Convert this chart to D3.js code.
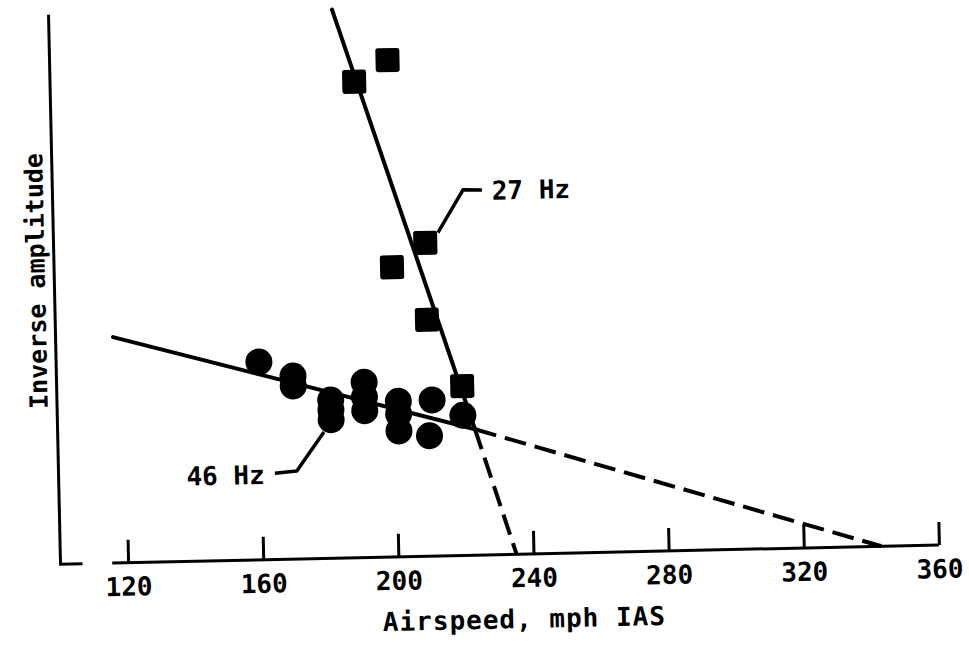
<!DOCTYPE html>
<html>
<head>
<meta charset="utf-8">
<script src="https://cdn.jsdelivr.net/npm/d3@7"></script>
<style>
  body { margin: 0; background: #fff; }
  text { font-family: "DejaVu Sans Mono", "Liberation Mono", monospace; fill: #000; }
</style>
</head>
<body>
<script>
// Airspeed ticks (mph IAS)
const xTicks = [120, 160, 200, 240, 280, 320, 360];

// 27 Hz mode: measured points (squares)
const sq27Speed = [190, 200, 210, 200, 210, 220];
const sq27Value = [86.6, 90.4, 57.0, 52.7, 43.0, 30.8];

// 46 Hz mode: measured points (circles)
const dot46Speed = [160, 170, 170, 181, 181, 181, 191, 191, 191, 201, 201, 201, 211, 210, 220];
const dot46Value = [36.0, 33.3, 31.5, 28.8, 27.0, 25.2, 31.9, 29.2, 26.7, 28.3, 26.0, 22.9, 28.4, 21.9, 25.5];

// Fairings (solid) and extrapolations to zero (dashed)
const fit27Speed = [183.9, 223.5];
const fit27Value = [99.8, 22.9];
const ext27Speed = [223.5, 235];
const ext27Value = [22.9, 0];
const fit46Speed = [117, 223.5];
const fit46Value = [41.1, 22.9];
const ext46Speed = [223.5, 343];
const ext46Value = [22.9, 0];

// Labels with leader lines
const lab27Text = "27 Hz";
const lab27At = [230, 64.6];
const lead27Speed = [213.8, 221.5, 227.1];
const lead27Value = [58.8, 66.5, 66.4];
const lab46Text = "46 Hz";
const lab46At = [161, 13.8];
const lead46Speed = [164, 170.5, 178.8];
const lead46Value = [15.7, 16.0, 23.0];

// Axis frame extents (data units)
const yAxisSpeed = 100, yFootSpeed = 106.5, xAxisStart = 115.3;
const yMax = 100;

const W = 969, H = 646;
const svg = d3.select("body").append("svg").attr("width", W).attr("height", H);

const x = d3.scaleLinear().domain([120, 360]).range([128, 939]);
const y = d3.scaleLinear().domain([0, yMax]).range([554.6, 5]);

// whole drawing is slightly tilted, as on the printed page
const g = svg.append("g").attr("transform", "rotate(-1.25,500,555)");

// vertical axis with short foot
g.append("path")
  .attr("d", d3.line()([[x(yAxisSpeed), y(yMax)], [x(yAxisSpeed), y(0)], [x(yFootSpeed), y(0)]]))
  .attr("fill", "none").attr("stroke", "#000").attr("stroke-width", 3);

// horizontal axis
g.append("line")
  .attr("x1", x(xAxisStart)).attr("x2", x(360)).attr("y1", y(0)).attr("y2", y(0))
  .attr("stroke", "#000").attr("stroke-width", 3);

const xAxis = d3.axisBottom(x).tickValues(xTicks).tickSize(-23).tickSizeOuter(0).tickFormat(d3.format("d"));
const ax = g.append("g").attr("transform", `translate(0,${y(0)})`).call(xAxis);
ax.select(".domain").remove();
ax.selectAll(".tick line").attr("stroke", "#000").attr("stroke-width", 3);
ax.selectAll(".tick text")
  .attr("y", 33).attr("dy", 0)
  .style("font-family", "'DejaVu Sans Mono', monospace")
  .style("font-size", "26px").style("font-weight", "bold").attr("fill", "#000");

// axis titles
g.append("text")
  .attr("x", 523).attr("y", 628.5)
  .attr("text-anchor", "middle")
  .style("font-size", "26px").style("font-weight", "bold").style("letter-spacing", "1px")
  .text("Airspeed, mph IAS");

g.append("text")
  .attr("transform", "translate(51,271) rotate(-90)")
  .attr("text-anchor", "middle")
  .style("font-size", "25px").style("font-weight", "bold")
  .text("Inverse amplitude");

const line = d3.line().x(d => x(d[0])).y(d => y(d[1]));
const pairs = (a, b) => a.map((v, i) => [v, b[i]]);

// fitted lines
g.append("path").attr("d", line(pairs(fit27Speed, fit27Value)))
  .attr("fill", "none").attr("stroke", "#000").attr("stroke-width", 4).attr("stroke-linecap", "round");
g.append("path").attr("d", line(pairs(fit46Speed, fit46Value)))
  .attr("fill", "none").attr("stroke", "#000").attr("stroke-width", 4).attr("stroke-linecap", "round");
g.append("path").attr("d", line(pairs(ext27Speed, ext27Value)))
  .attr("fill", "none").attr("stroke", "#000").attr("stroke-width", 4).attr("stroke-dasharray", "21,9");
g.append("path").attr("d", line(pairs(ext46Speed, ext46Value)))
  .attr("fill", "none").attr("stroke", "#000").attr("stroke-width", 4).attr("stroke-dasharray", "22,9");

// 46 Hz circles
g.selectAll("circle.d46").data(pairs(dot46Speed, dot46Value)).enter()
  .append("circle").attr("class", "d46")
  .attr("cx", d => x(d[0])).attr("cy", d => y(d[1])).attr("r", 13.5).attr("fill", "#000");

// 27 Hz squares
const s = 24;
g.selectAll("rect.s27").data(pairs(sq27Speed, sq27Value)).enter()
  .append("rect").attr("class", "s27")
  .attr("x", d => x(d[0]) - s / 2).attr("y", d => y(d[1]) - s / 2)
  .attr("width", s).attr("height", s).attr("rx", 2.5).attr("fill", "#000");

// labels with leaders
g.append("path").attr("d", line(pairs(lead27Speed, lead27Value)))
  .attr("fill", "none").attr("stroke", "#000").attr("stroke-width", 3.5).attr("stroke-linejoin", "round");
g.append("text").attr("x", x(lab27At[0])).attr("y", y(lab27At[1]))
  .style("font-size", "26px").style("font-weight", "bold").text(lab27Text);

g.append("path").attr("d", line(pairs(lead46Speed, lead46Value)))
  .attr("fill", "none").attr("stroke", "#000").attr("stroke-width", 3.5).attr("stroke-linejoin", "round");
g.append("text").attr("x", x(lab46At[0])).attr("y", y(lab46At[1])).attr("text-anchor", "end")
  .style("font-size", "26px").style("font-weight", "bold").text(lab46Text);
</script>
</body>
</html>
